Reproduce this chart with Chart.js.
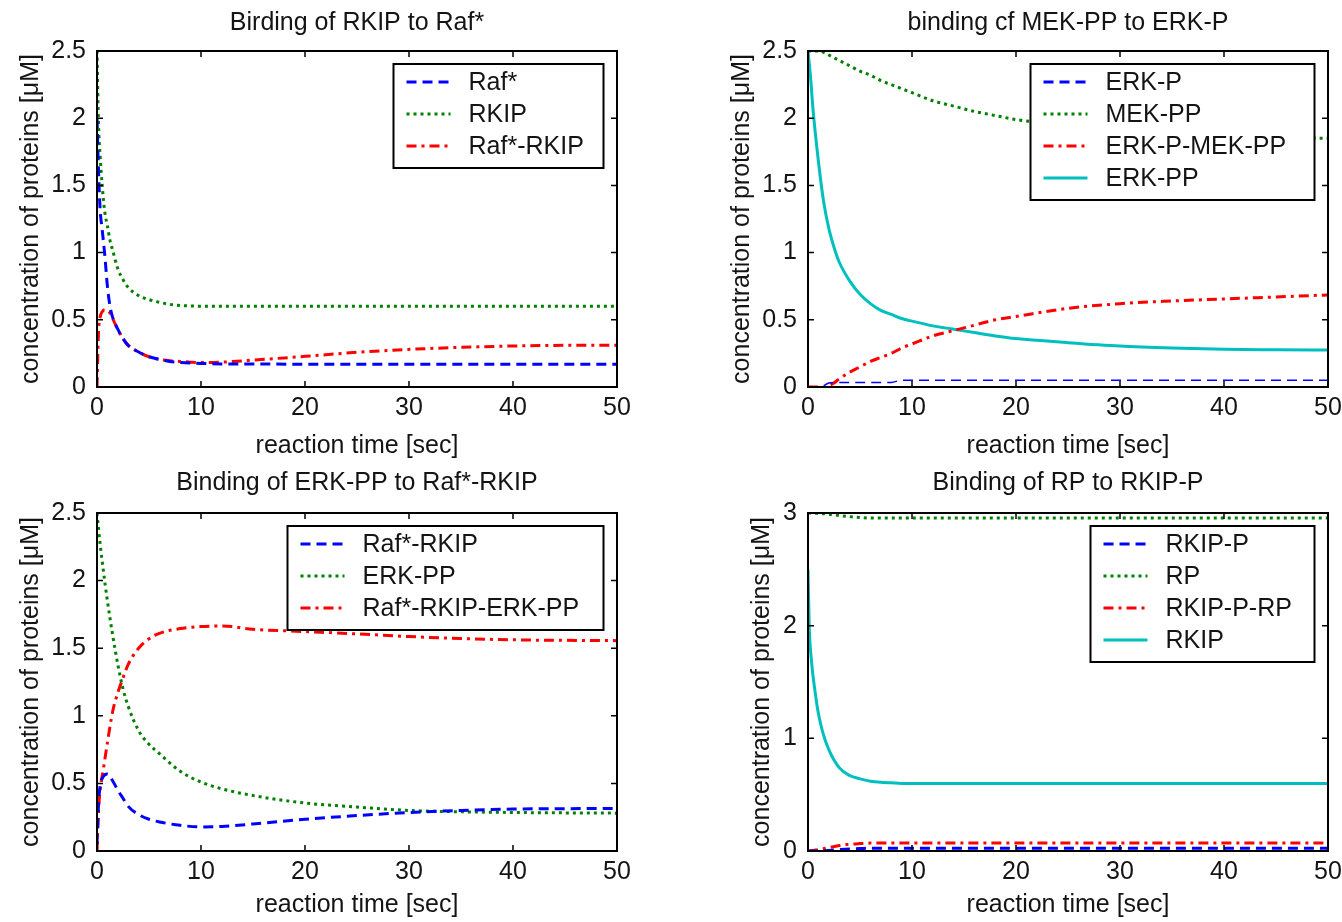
<!DOCTYPE html>
<html>
<head>
<meta charset="utf-8">
<script src="https://cdn.jsdelivr.net/npm/chart.js@4.4.0/dist/chart.umd.min.js"></script>
<style>
  html, body { margin: 0; padding: 0; background: #fff; }
  #page { position: relative; width: 1342px; height: 922px; overflow: hidden; }
  canvas { position: absolute; }
</style>
</head>
<body>
<div id="page">
  <canvas id="c1" width="671" height="461" style="left:0;top:0"></canvas>
  <canvas id="c2" width="671" height="461" style="left:671px;top:0"></canvas>
  <canvas id="c3" width="671" height="461" style="left:0;top:461px"></canvas>
  <canvas id="c4" width="671" height="461" style="left:671px;top:461px"></canvas>
</div>
<script>
// tick labels
const xTicks = [0, 10, 20, 30, 40, 50];
const yTicks25 = [0, 0.5, 1, 1.5, 2, 2.5];
const yTicks3 = [0, 1, 2, 3];

// panel 1: binding of RKIP to Raf*
const time1 = [0, 0.15, 0.3, 0.5, 0.75, 1, 1.25, 1.5, 2, 2.5, 3, 4, 5, 6, 7, 8, 9, 10, 12, 15, 20, 25, 30, 35, 40, 45, 50];
const raf1 = [2.0, 1.6, 1.32, 1.17, 0.98, 0.75, 0.6, 0.52, 0.43, 0.36, 0.31, 0.26, 0.225, 0.205, 0.19, 0.183, 0.178, 0.175, 0.172, 0.171, 0.17, 0.17, 0.17, 0.17, 0.17, 0.17, 0.17];
const rkip1 = [2.5, 1.95, 1.72, 1.5, 1.3, 1.2, 1.09, 1.02, 0.88, 0.8, 0.74, 0.68, 0.65, 0.63, 0.615, 0.607, 0.603, 0.6, 0.6, 0.6, 0.6, 0.6, 0.6, 0.6, 0.6, 0.6, 0.6];
const rafRkip1 = [0, 0.42, 0.52, 0.56, 0.575, 0.57, 0.55, 0.51, 0.43, 0.36, 0.31, 0.26, 0.225, 0.205, 0.195, 0.19, 0.185, 0.182, 0.185, 0.2, 0.228, 0.258, 0.28, 0.295, 0.305, 0.31, 0.31];

// panel 2: binding of MEK-PP to ERK-P
const time2 = [0, 0.25, 0.5, 1, 1.5, 2, 2.5, 3, 4, 5, 6, 7, 8, 9, 10, 12, 14, 16, 18, 20, 25, 30, 35, 40, 45, 50];
const erkP2 = [0, 0, 0, 0.003, 0.01, 0.03, 0.033, 0.033, 0.033, 0.033, 0.033, 0.033, 0.034, 0.05, 0.05, 0.05, 0.05, 0.05, 0.05, 0.05, 0.05, 0.05, 0.05, 0.05, 0.05, 0.05];
const mekPP2 = [2.5, 2.5, 2.5, 2.5, 2.49, 2.47, 2.45, 2.43, 2.39, 2.35, 2.32, 2.28, 2.25, 2.22, 2.19, 2.13, 2.09, 2.05, 2.02, 1.99, 1.95, 1.92, 1.9, 1.88, 1.86, 1.85];
const erkPMekPP2 = [0, 0, 0, 0, 0, 0.01, 0.03, 0.06, 0.11, 0.15, 0.19, 0.22, 0.25, 0.29, 0.32, 0.38, 0.42, 0.46, 0.5, 0.525, 0.585, 0.62, 0.64, 0.655, 0.67, 0.685];
const erkPP2 = [2.5, 2.3, 2.05, 1.68, 1.38, 1.18, 1.04, 0.93, 0.79, 0.69, 0.62, 0.57, 0.54, 0.51, 0.49, 0.455, 0.43, 0.405, 0.38, 0.36, 0.33, 0.305, 0.29, 0.28, 0.277, 0.275];

// panel 3: binding of ERK-PP to Raf*-RKIP
const time3 = [0, 0.15, 0.3, 0.6, 1, 1.5, 2, 2.5, 3, 4, 5, 6, 8, 10, 12, 15, 20, 25, 30, 35, 40, 45, 50];
const rafRkip3 = [0.05, 0.35, 0.48, 0.55, 0.57, 0.52, 0.45, 0.39, 0.33, 0.27, 0.235, 0.215, 0.19, 0.178, 0.182, 0.2, 0.235, 0.262, 0.285, 0.3, 0.31, 0.313, 0.315];
const erkPP3 = [2.5, 2.38, 2.27, 2.08, 1.85, 1.6, 1.38, 1.2, 1.07, 0.89, 0.79, 0.72, 0.59, 0.51, 0.46, 0.41, 0.355, 0.325, 0.3, 0.29, 0.285, 0.282, 0.28];
const rafRkipErkPP3 = [0, 0.3, 0.45, 0.6, 0.8, 1.03, 1.17, 1.28, 1.38, 1.5, 1.57, 1.61, 1.645, 1.66, 1.665, 1.64, 1.623, 1.606, 1.586, 1.572, 1.562, 1.558, 1.556];

// panel 4: binding of RP to RKIP-P
const time4 = [0, 0.12, 0.33, 0.7, 1, 1.4, 2, 3, 4, 5, 6, 7, 8, 9, 10, 15, 20, 30, 40, 50];
const rkipP4 = [0, 0, 0, 0, 0, 0.002, 0.005, 0.012, 0.018, 0.022, 0.025, 0.025, 0.025, 0.025, 0.025, 0.025, 0.025, 0.025, 0.025, 0.025];
const rp4 = [3, 3, 3, 2.998, 2.996, 2.994, 2.99, 2.978, 2.968, 2.96, 2.955, 2.955, 2.955, 2.955, 2.955, 2.955, 2.955, 2.955, 2.955, 2.955];
const rkipPRp4 = [0, 0, 0.003, 0.008, 0.012, 0.018, 0.03, 0.048, 0.06, 0.066, 0.07, 0.07, 0.07, 0.07, 0.07, 0.07, 0.07, 0.07, 0.07, 0.07];
const rkip4 = [2.5, 1.99, 1.69, 1.4, 1.22, 1.06, 0.9, 0.74, 0.67, 0.64, 0.62, 0.61, 0.605, 0.6, 0.6, 0.6, 0.6, 0.6, 0.6, 0.6];

const FONT = '"Liberation Sans", Arial, Helvetica, sans-serif';
const TEXT = '#141414';

// matlab style line looks
const styles = {
  blue:  { borderColor: '#0000ff', borderDash: [10, 6] },
  green: { borderColor: '#008000', borderDash: [3, 4] },
  red:   { borderColor: '#ff0000', borderDash: [10, 5, 3, 5] },
  cyan:  { borderColor: '#00bfbf', borderDash: [] }
};

function series(label, time, values, style, width) {
  return Object.assign({
    label: label,
    data: time.map((t, i) => ({ x: t, y: values[i] })),
    borderWidth: width || 3,
    pointRadius: 0,
    cubicInterpolationMode: 'monotone',
    fill: false
  }, styles[style]);
}

// axes box with inward ticks and a boxed legend, like the matlab figure
const matlabFrame = {
  id: 'matlabFrame',
  afterDatasetsDraw(chart, args, opts) {
    const { ctx, chartArea: a, scales } = chart;
    ctx.save();
    ctx.strokeStyle = '#000';
    ctx.lineWidth = 1.5;
    ctx.beginPath();
    for (const v of opts.xTicks) {
      const px = scales.x.getPixelForValue(v);
      ctx.moveTo(px, a.bottom); ctx.lineTo(px, a.bottom - 6);
      ctx.moveTo(px, a.top); ctx.lineTo(px, a.top + 6);
    }
    for (const v of opts.yTicks) {
      const py = scales.y.getPixelForValue(v);
      ctx.moveTo(a.left, py); ctx.lineTo(a.left + 6, py);
      ctx.moveTo(a.right, py); ctx.lineTo(a.right - 6, py);
    }
    ctx.stroke();
    ctx.lineWidth = 2;
    ctx.strokeRect(a.left, a.top, a.right - a.left, a.bottom - a.top);

    // legend
    const L = opts.legend;
    const rows = chart.data.datasets.length;
    const h = rows * 32 + 8;
    const x0 = a.right - 13.5 - L.width;
    const y0 = a.top + 13;
    ctx.fillStyle = '#fff';
    ctx.fillRect(x0, y0, L.width, h);
    ctx.strokeRect(x0, y0, L.width, h);
    ctx.font = '25px ' + FONT;
    ctx.textBaseline = 'middle';
    chart.data.datasets.forEach((ds, i) => {
      const y = y0 + 18 + i * 32;
      ctx.strokeStyle = ds.borderColor;
      ctx.lineWidth = 3;
      ctx.setLineDash(ds.borderDash);
      ctx.beginPath();
      ctx.moveTo(x0 + 13, y);
      ctx.lineTo(x0 + 57, y);
      ctx.stroke();
      ctx.setLineDash([]);
      ctx.fillStyle = TEXT;
      ctx.fillText(ds.label, x0 + 75, y + 1);
    });
    ctx.restore();
  }
};

function makePanel(id, p) {
  const font = { family: FONT, size: 25, weight: 'normal' };
  const H = 461, W = 671;
  const titleTop = p.titleY - 15;
  new Chart(document.getElementById(id), {
    type: 'line',
    data: { datasets: p.datasets },
    options: {
      responsive: false,
      animation: false,
      devicePixelRatio: 1,
      layout: { padding: { left: 0, top: 0, bottom: 0, right: W - p.right } },
      plugins: {
        legend: { display: false },
        tooltip: { enabled: false },
        title: {
          display: true, text: p.title, font: font, color: TEXT, fullSize: false,
          padding: { top: titleTop, bottom: p.top - 30 - titleTop }
        },
        matlabFrame: { xTicks: xTicks, yTicks: p.yTicks, legend: { width: p.legendWidth } }
      },
      scales: {
        x: {
          type: 'linear', min: 0, max: 50,
          afterBuildTicks: s => { s.ticks = xTicks.map(v => ({ value: v })); },
          afterFit: s => { s.height = H - p.bottom; s.paddingLeft = 0; s.paddingRight = 0; },
          grid: { display: false, drawTicks: false },
          border: { display: false },
          ticks: { font: font, color: TEXT, padding: 6, maxRotation: 0, autoSkip: false,
                   callback: v => String(v) },
          title: { display: true, text: 'reaction time [sec]', font: font, color: TEXT,
                   padding: { top: 0, bottom: H - p.xTitleY - 15 } }
        },
        y: {
          type: 'linear', min: 0, max: p.yTicks[p.yTicks.length - 1],
          afterBuildTicks: s => { s.ticks = p.yTicks.map(v => ({ value: v })); },
          afterFit: s => { s.width = p.left; s.paddingTop = 0; s.paddingBottom = 0; },
          grid: { display: false, drawTicks: false },
          border: { display: false },
          ticks: { font: font, color: TEXT, padding: 11, autoSkip: false,
                   callback: v => String(v) },
          title: { display: true, text: 'concentration of proteins [\u03bcM]', font: font, color: TEXT,
                   padding: { top: p.yTitleX - 15, bottom: 0 } }
        }
      }
    },
    plugins: [matlabFrame]
  });
}

makePanel('c1', {
  title: 'Birding of RKIP to Raf*',
  left: 97, right: 617, top: 51, bottom: 387, titleY: 23, xTitleY: 446, yTitleX: 31,
  yTicks: yTicks25, legendWidth: 210,
  datasets: [
    series('Raf*', time1, raf1, 'blue'),
    series('RKIP', time1, rkip1, 'green'),
    series('Raf*-RKIP', time1, rafRkip1, 'red')
  ]
});

makePanel('c2', {
  title: 'binding cf MEK-PP to ERK-P',
  left: 137, right: 657, top: 51, bottom: 387, titleY: 23, xTitleY: 446, yTitleX: 71,
  yTicks: yTicks25, legendWidth: 284,
  datasets: [
    series('ERK-P', time2, erkP2, 'blue', 1.5),
    series('MEK-PP', time2, mekPP2, 'green'),
    series('ERK-P-MEK-PP', time2, erkPMekPP2, 'red'),
    series('ERK-PP', time2, erkPP2, 'cyan')
  ]
});

makePanel('c3', {
  title: 'Binding of ERK-PP to Raf*-RKIP',
  left: 97, right: 617, top: 52, bottom: 390, titleY: 22, xTitleY: 444, yTitleX: 31,
  yTicks: yTicks25, legendWidth: 316,
  datasets: [
    series('Raf*-RKIP', time3, rafRkip3, 'blue'),
    series('ERK-PP', time3, erkPP3, 'green'),
    series('Raf*-RKIP-ERK-PP', time3, rafRkipErkPP3, 'red')
  ]
});

makePanel('c4', {
  title: 'Binding of RP to RKIP-P',
  left: 137, right: 657, top: 52, bottom: 390, titleY: 22, xTitleY: 444, yTitleX: 91,
  yTicks: yTicks3, legendWidth: 224,
  datasets: [
    series('RKIP-P', time4, rkipP4, 'blue'),
    series('RP', time4, rp4, 'green'),
    series('RKIP-P-RP', time4, rkipPRp4, 'red'),
    series('RKIP', time4, rkip4, 'cyan')
  ]
});
</script>
</body>
</html>
